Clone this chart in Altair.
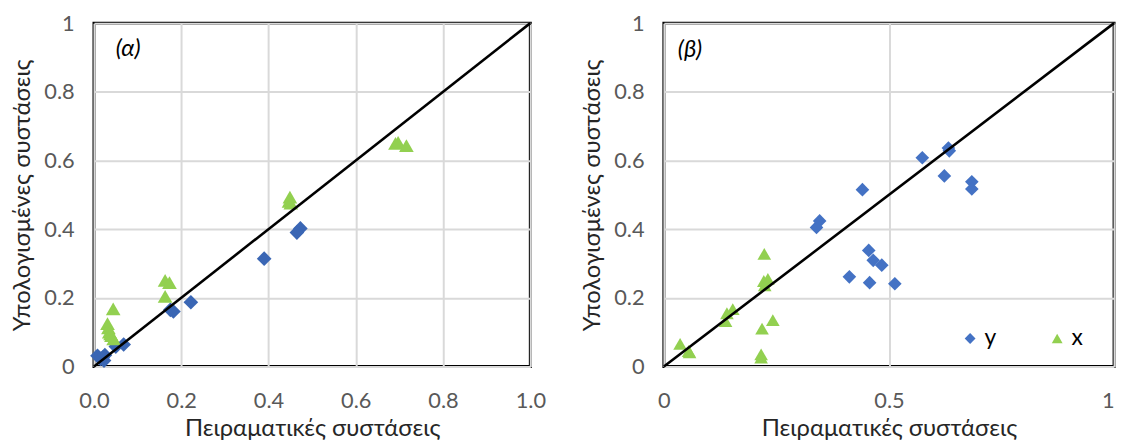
import altair as alt
import pandas as pd

# ---------------- Panel (α) ----------------
a_y_exp  = [0.473, 0.465, 0.390, 0.222, 0.182, 0.175, 0.068, 0.050, 0.020, 0.008, 0.023, 0.015, 0.025]
a_y_calc = [0.402, 0.390, 0.314, 0.187, 0.160, 0.165, 0.064, 0.058, 0.026, 0.031, 0.017, 0.022, 0.033]
a_x_exp  = [0.691, 0.697, 0.716, 0.449, 0.447, 0.451, 0.163, 0.173, 0.163, 0.044, 0.031, 0.033, 0.035, 0.040, 0.045, 0.038]
a_x_calc = [0.650, 0.653, 0.643, 0.493, 0.481, 0.476, 0.251, 0.244, 0.204, 0.168, 0.125, 0.112, 0.100, 0.090, 0.080, 0.095]

# ---------------- Panel (β) ----------------
b_y_exp  = [0.632, 0.634, 0.574, 0.623, 0.684, 0.684, 0.441, 0.346, 0.339, 0.455, 0.465, 0.484, 0.412, 0.457, 0.513]
b_y_calc = [0.636, 0.628, 0.608, 0.555, 0.538, 0.517, 0.515, 0.424, 0.405, 0.338, 0.309, 0.295, 0.261, 0.244, 0.241]
b_x_exp  = [0.223, 0.231, 0.222, 0.224, 0.153, 0.140, 0.137, 0.242, 0.218, 0.216, 0.216, 0.036, 0.055, 0.057]
b_x_calc = [0.328, 0.255, 0.249, 0.236, 0.167, 0.155, 0.132, 0.135, 0.110, 0.035, 0.026, 0.066, 0.045, 0.041]

series = ["y", "x"]
diag = [0.0, 1.0]
left_x_ticks = [0, 0.2, 0.4, 0.6, 0.8, 1.0]
right_x_ticks = [0, 0.5, 1]
y_ticks = [0, 0.2, 0.4, 0.6, 0.8, 1]
panel_labels = ["(α)", "(β)"]
label_pos_x = [0.05, 0.031]
label_pos_y = [0.925, 0.922]

x_title = "Πειραματικές συστάσεις"
y_title = "Υπολογισμένες συστάσεις"

FONT = "Lato"


def make_points(y_exp, y_calc, x_exp, x_calc):
    return pd.DataFrame({
        "exp": list(y_exp) + list(x_exp),
        "calc": list(y_calc) + list(x_calc),
        "series": ["y"] * len(y_exp) + ["x"] * len(x_exp),
    })


def panel(df, width, xticks, xfmt, idx, blue, legend, size):
    xs = alt.Scale(domain=[0, 1], nice=False, zero=False)
    ys = alt.Scale(domain=[0, 1], nice=False, zero=False)
    label_align = {"condition": {"test": "datum.value >= 1", "value": "right"}, "value": "center"} if idx == 1 else "center"
    xaxis = alt.Axis(values=xticks, format=xfmt, title=x_title, labelAlign=label_align)
    yaxis = alt.Axis(values=y_ticks, format="~g", title=y_title)
    if legend:
        leg = alt.Legend(orient="none", legendX=298, legendY=307, direction="horizontal",
                         title=None, symbolSize=120, labelFontSize=23, labelColor="#000000",
                         labelFont=FONT, columnPadding=50, labelOffset=3, padding=0,
                         symbolStrokeWidth=0)
    else:
        leg = None
    pts = alt.Chart(df).mark_point(filled=True, opacity=1, size=size, strokeWidth=0).encode(
        x=alt.X("exp:Q", scale=xs, axis=xaxis),
        y=alt.Y("calc:Q", scale=ys, axis=yaxis),
        color=alt.Color("series:N", scale=alt.Scale(domain=series, range=[blue, "#92D050"]), legend=leg),
        shape=alt.Shape("series:N", scale=alt.Scale(domain=series, range=["diamond", "triangle-up"]), legend=leg),
    )
    line = alt.Chart(pd.DataFrame({"a": diag, "b": diag})).mark_line(color="black", strokeWidth=2.6).encode(
        x=alt.X("a:Q", scale=xs), y=alt.Y("b:Q", scale=ys)
    )
    txt = alt.Chart(pd.DataFrame({"tx": [label_pos_x[idx]], "ty": [label_pos_y[idx]], "t": [panel_labels[idx]]})).mark_text(
        align="left", baseline="middle", fontSize=24, fontStyle="italic", font=FONT, color="black"
    ).encode(x=alt.X("tx:Q", scale=xs), y=alt.Y("ty:Q", scale=ys), text="t:N")
    return alt.layer(pts, line, txt).properties(width=width, height=347)


left = panel(make_points(a_y_exp, a_y_calc, a_x_exp, a_x_calc), 441, left_x_ticks, ".1f", 0, "#3A66B4", False, 220)
right = panel(make_points(b_y_exp, b_y_calc, b_x_exp, b_x_calc), 455, right_x_ticks, "~g", 1, "#4472C4", True, 190)

chart = alt.hconcat(left, right, spacing=32).resolve_scale(
    color="independent", shape="independent"
).resolve_legend(color="independent", shape="independent").properties(
    padding={"left": 9, "top": 8, "right": 0, "bottom": 0}
).configure_view(
    stroke="black", strokeWidth=3
).configure_axis(
    labelFont=FONT, titleFont=FONT, labelFontSize=22,
    labelColor="#595959", titleColor="#262626", titleFontWeight="normal",
    gridColor="#d9d9d9", gridWidth=2, domain=False, ticks=False,
).configure_axisX(labelPadding=24, titlePadding=6, titleFontSize=24).configure_axisY(
    labelPadding=20, titlePadding=9, titleFontSize=24)

chart.save("out.html", embed_options={"renderer": "svg", "actions": False})
